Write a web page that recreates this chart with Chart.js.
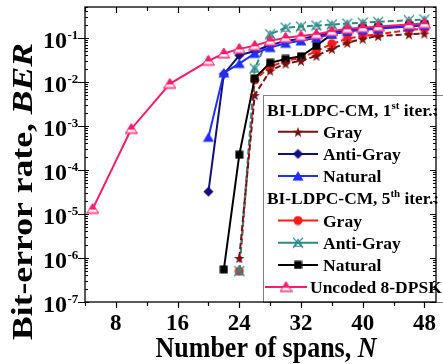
<!DOCTYPE html>
<html><head><meta charset="utf-8">
<script src="https://cdn.jsdelivr.net/npm/chart.js@4.4.0/dist/chart.umd.min.js"></script>
<style>html,body{margin:0;padding:0;background:#fff;overflow:hidden}canvas{display:block}</style>
</head><body>
<canvas id="c" width="443" height="364"></canvas>
<script>
// ---- data ----
const spansGray1 = [24, 26, 28, 30, 32, 34, 36, 38, 40, 42, 46, 48];
const berGray1 = [1e-6, 0.005, 0.018, 0.026, 0.030, 0.039, 0.056, 0.077, 0.095, 0.11, 0.12, 0.125];
const spansAntiGray1 = [20, 22, 24, 26, 28, 30, 32, 34, 36, 38, 40, 42, 46, 48];
const berAntiGray1 = [3.2e-5, 0.015, 0.040, 0.050, 0.068, 0.085, 0.095, 0.11, 0.13, 0.15, 0.16, 0.17, 0.19, 0.20];
const spansNatural1 = [20, 22, 24, 26, 28, 30, 32, 34, 36, 38, 40, 42, 46, 48];
const berNatural1 = [5.5e-4, 0.016, 0.026, 0.044, 0.060, 0.075, 0.085, 0.10, 0.12, 0.14, 0.15, 0.16, 0.18, 0.19];
const spansGray5 = [24, 26, 28, 30, 32, 34, 36, 38, 40, 42, 46, 48];
const berGray5 = [5e-7, 0.011, 0.022, 0.030, 0.035, 0.050, 0.073, 0.095, 0.11, 0.12, 0.15, 0.16];
const spansAntiGray5 = [24, 26, 28, 30, 32, 34, 36, 38, 40, 42, 46, 48];
const berAntiGray5 = [5e-7, 0.020, 0.12, 0.17, 0.18, 0.19, 0.20, 0.21, 0.22, 0.23, 0.25, 0.26];
const spansNatural5 = [22, 24, 26, 28, 30, 32, 34, 36, 38, 40, 42, 46, 48];
const berNatural5 = [5.5e-7, 2.2e-4, 0.012, 0.027, 0.033, 0.038, 0.066, 0.12, 0.14, 0.16, 0.17, 0.19, 0.20];
const spansUncoded = [5, 10, 15, 20, 22, 24, 26, 28, 30, 32, 34, 36, 38, 40, 42, 46, 48];
const berUncoded = [1.3e-5, 8.5e-4, 9e-3, 0.030, 0.044, 0.056, 0.066, 0.085, 0.10, 0.11, 0.12, 0.14, 0.16, 0.17, 0.18, 0.20, 0.21];

const xTickLabels = [8, 16, 24, 32, 40, 48];
const yTickExponents = [-7, -6, -5, -4, -3, -2, -1];
const xTitle = ["Number of spans, ", "N"];
const yTitle = ["Bit-error rate, ", "BER"];
const legendHeader1 = ["BI-LDPC-CM, 1", "st", " iter.:"];
const legendHeader5 = ["BI-LDPC-CM, 5", "th", " iter.:"];

// ---- colours ----
const C_DARKRED = '#7a1212', C_NAVY = '#10107a', C_BLUE = '#1f2dff', C_RED = '#ff1a1a',
      C_TEAL = '#2a8a86', C_BLACK = '#000000', C_PINK = '#ff1a6e';

// ---- marker canvases ----
function mk(size, draw){const c=document.createElement('canvas');c.width=size;c.height=size;const g=c.getContext('2d');draw(g,size/2);return c;}
const mStar = mk(12,(g,r)=>{g.fillStyle=C_DARKRED;g.beginPath();for(let i=0;i<10;i++){const a=-Math.PI/2+i*Math.PI/5;const rr=i%2?2.2:5.5;g.lineTo(r+rr*Math.cos(a),r+0.8+rr*Math.sin(a));}g.closePath();g.fill();});
const mDiamond = mk(11,(g,r)=>{g.fillStyle=C_NAVY;g.beginPath();g.moveTo(r,r-5);g.lineTo(r+5,r);g.lineTo(r,r+5);g.lineTo(r-5,r);g.closePath();g.fill();});
const mTri = mk(12,(g,r)=>{g.fillStyle=C_BLUE;g.beginPath();g.moveTo(r,r-5);g.lineTo(r+5.5,r+4.5);g.lineTo(r-5.5,r+4.5);g.closePath();g.fill();});
const mCircle = mk(10,(g,r)=>{g.fillStyle=C_RED;g.beginPath();g.arc(r,r,4.5,0,Math.PI*2);g.fill();});
const mSquare = mk(9,(g,r)=>{g.fillStyle=C_BLACK;g.fillRect(r-4,r-4,8,8);});
const mX = mk(12,(g,r)=>{g.strokeStyle=C_TEAL;g.lineWidth=1.1;g.beginPath();g.moveTo(r-5,r-5);g.lineTo(r+5,r+5);g.moveTo(r+5,r-5);g.lineTo(r-5,r+5);g.stroke();g.beginPath();g.moveTo(r,r-3.5);g.lineTo(r+4,r+3.5);g.lineTo(r-4,r+3.5);g.closePath();g.stroke();});
const mPink = mk(13,(g,r)=>{g.save();g.beginPath();g.moveTo(r,r-5.5);g.lineTo(r+6,r+4.5);g.lineTo(r-6,r+4.5);g.closePath();g.fillStyle='#ff9cbc';g.fill();g.clip();g.fillStyle=C_PINK;g.fillRect(0,0,13,r+0.5);g.fillStyle='#fff';g.fillRect(0,r+1,13,1.8);g.restore();g.strokeStyle=C_PINK;g.lineWidth=1;g.beginPath();g.moveTo(r,r-5.5);g.lineTo(r+6,r+4.5);g.lineTo(r-6,r+4.5);g.closePath();g.stroke();});

function pts(xs, ys){return xs.map((x,i)=>({x:x,y:ys[i]}));}
function ds(label, xs, ys, color, marker, dash){
  return {label, data: pts(xs, ys), borderColor: color, backgroundColor: color, borderWidth: 2,
    pointStyle: marker, pointRadius: 5, pointHoverRadius: 5, borderDash: dash || [], fill: false, tension: 0, clip: false};
}
const datasets = [
  ds('Uncoded 8-DPSK', spansUncoded, berUncoded, C_PINK, mPink),
  ds('Natural 1st', spansNatural1, berNatural1, C_BLUE, mTri),
  ds('Anti-Gray 1st', spansAntiGray1, berAntiGray1, C_NAVY, mDiamond),
  ds('Gray 1st', spansGray1, berGray1, C_DARKRED, mStar, [6,3]),
  ds('Natural 5th', spansNatural5, berNatural5, C_BLACK, mSquare),
  ds('Anti-Gray 5th', spansAntiGray5, berAntiGray5, C_TEAL, mX, [6,3]),
  ds('Gray 5th', spansGray5, berGray5, C_RED, mCircle, [6,3]),
];

const SERIF = '"Liberation Serif","Times New Roman",serif';

function measureParts(ctx, parts){let w=0; parts.forEach(p=>{ctx.font=p.font; p.w=ctx.measureText(p.t).width; w+=p.w;}); return w;}
function drawParts(ctx, parts, x, baseline, align){
  const w=measureParts(ctx, parts);
  let cx = align==='center'? x-w/2 : (align==='right'? x-w : x);
  ctx.textAlign='left';
  parts.forEach(p=>{ctx.font=p.font; ctx.fillText(p.t, cx, baseline+(p.dy||0)); cx+=p.w;});
  return w;
}

const deco = {
  id:'deco',
  afterDatasetsDraw(chart){
    const {ctx, chartArea:ca, scales:{x, y}} = chart;
    ctx.save();
    // legend box
    const bx=263, by=95, bw=182, bh=ca.bottom-95;
    ctx.fillStyle='#fff'; ctx.fillRect(bx,by,bw,bh);
    ctx.strokeStyle='#808080'; ctx.lineWidth=1; ctx.strokeRect(bx+0.5,by+0.5,bw,bh);
    ctx.fillStyle='#000'; ctx.textBaseline='alphabetic';
    const F='bold 17.5px '+SERIF, FS='bold 11px '+SERIF;
    const rows=[109.5,131.7,153.9,176.1,198.3,220.5,242.7,264.9,287.1];
    const hdr=(h,yc)=>{
      const parts=[{t:h[0],font:F},{t:h[1],font:FS,dy:-7},{t:h[2],font:F}];
      const w=measureParts(ctx, parts); const s=Math.min(1,172/w);
      ctx.save(); ctx.translate(267,yc+6); ctx.scale(s,1); drawParts(ctx,parts,0,0,'left'); ctx.restore();
    };
    hdr(legendHeader1, rows[0]);
    hdr(legendHeader5, rows[4]);
    const entries=[
      [rows[1],C_DARKRED,mStar,'Gray'],[rows[2],C_NAVY,mDiamond,'Anti-Gray'],[rows[3],C_BLUE,mTri,'Natural'],
      [rows[5],C_RED,mCircle,'Gray'],[rows[6],C_TEAL,mX,'Anti-Gray'],[rows[7],C_BLACK,mSquare,'Natural']];
    entries.forEach(([yc,col,m,t])=>{
      ctx.strokeStyle=col; ctx.lineWidth=2; ctx.setLineDash([]);
      ctx.beginPath(); ctx.moveTo(278,yc); ctx.lineTo(318,yc); ctx.stroke();
      ctx.drawImage(m,298-m.width/2,yc-m.height/2);
      ctx.fillStyle='#000'; ctx.font=F; ctx.textAlign='left'; ctx.fillText(t,323,yc+6);
    });
    ctx.strokeStyle=C_PINK; ctx.lineWidth=2; ctx.beginPath(); ctx.moveTo(265,rows[8]); ctx.lineTo(307,rows[8]); ctx.stroke();
    ctx.drawImage(mPink,286-mPink.width/2,rows[8]-mPink.height/2);
    ctx.fillStyle='#000'; ctx.font=F; ctx.fillText('Uncoded 8-DPSK',310,rows[8]+6);

    // frame
    ctx.strokeStyle='#000'; ctx.lineWidth=1.3;
    ctx.strokeRect(ca.left, ca.top, ca.right-ca.left, ca.bottom-ca.top);
    // x ticks
    ctx.lineWidth=1.2;
    for(let v=4; v<=48; v+=4){
      const px=Math.round(x.getPixelForValue(v))+0.5;
      const major = v%8===0;
      ctx.beginPath();
      ctx.moveTo(px,ca.bottom); ctx.lineTo(px,ca.bottom+(major?6:4));
      ctx.moveTo(px,ca.top); ctx.lineTo(px,ca.top+(major?6:4));
      ctx.stroke();
    }
    // y ticks
    for(let e=-7;e<=-1;e++){
      for(let k=1;k<=9;k++){
        const v=k*Math.pow(10,e); if(v>0.5) break;
        const py=Math.round(y.getPixelForValue(v))+0.5;
        ctx.beginPath();
        if(k===1){ctx.moveTo(ca.left-7,py);ctx.lineTo(ca.left+4,py);ctx.moveTo(ca.right-6,py);ctx.lineTo(ca.right,py);}
        else {ctx.moveTo(ca.left,py);ctx.lineTo(ca.left+3,py);ctx.moveTo(ca.right-3,py);ctx.lineTo(ca.right,py);}
        ctx.stroke();
      }
    }
    // y tick labels
    ctx.fillStyle='#000';
    yTickExponents.forEach(e=>{
      const py=y.getPixelForValue(Math.pow(10,e));
      ctx.font='bold 24px '+SERIF; ctx.textAlign='right'; ctx.fillText('10',67,py+10);
      ctx.font='bold 13px '+SERIF; ctx.textAlign='left'; ctx.fillText('-'+Math.abs(e),67.5,py+1);
    });
    // x tick labels
    ctx.textAlign='center'; ctx.font='bold 23px '+SERIF;
    xTickLabels.forEach(v=>{ctx.fillText(String(v), x.getPixelForValue(v), 330);});
    ctx.textAlign='left';
    // x title (slightly stretched vertically like the source)
    ctx.save(); ctx.translate(266,357); ctx.scale(1,1.15);
    drawParts(ctx,[{t:xTitle[0],font:'bold 26px '+SERIF},{t:xTitle[1],font:'italic bold 26px '+SERIF}],0,0,'center');
    ctx.restore();
    // y title: fit to the source length
    const yParts=[{t:yTitle[0],font:'bold 30px '+SERIF},{t:yTitle[1],font:'italic bold 30px '+SERIF}];
    const yw=measureParts(ctx,yParts);
    ctx.save(); ctx.translate(32,191.5); ctx.rotate(-Math.PI/2); ctx.scale(297/yw,1);
    drawParts(ctx,yParts,0,0,'center');
    ctx.restore();
    ctx.restore();
  }
};

new Chart(document.getElementById('c'), {
  type:'line',
  data:{datasets},
  options:{
    responsive:false, animation:false, devicePixelRatio:1,
    layout:{padding:{top:6,right:1,left:0,bottom:0}},
    plugins:{legend:{display:false}, tooltip:{enabled:false}},
    scales:{
      x:{type:'linear',min:4,max:49.5,ticks:{display:false},grid:{display:false},border:{display:false},
         afterFit(s){s.height=62;}},
      y:{type:'logarithmic',min:1e-7,max:0.5,ticks:{display:false},grid:{display:false},border:{display:false},
         afterFit(s){s.width=85;}}
    }
  },
  plugins:[deco]
});
</script>
</body></html>
